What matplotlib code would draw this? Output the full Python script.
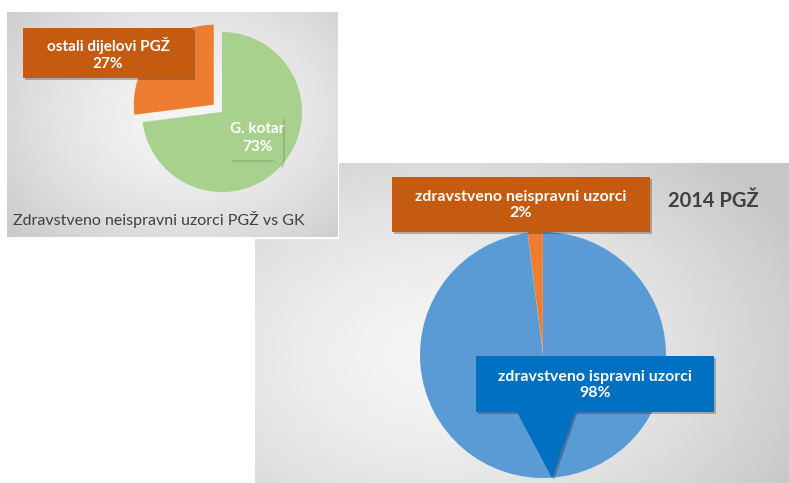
import numpy as np
import matplotlib.pyplot as plt
from matplotlib.patches import Polygon, Rectangle

# data
labels_gk = ["ostali dijelovi PGŽ", "G. kotar"]
values_gk = [27, 73]
colors_gk = ["#ED7D31", "#A9D18E"]
title_gk = "Zdravstveno neispravni uzorci PGŽ vs GK"

labels_pgz = ["zdravstveno neispravni uzorci", "zdravstveno ispravni uzorci"]
values_pgz = [2, 98]
colors_pgz = ["#ED7D31", "#5B9BD5"]
title_pgz = "2014 PGŽ"

W, H = 789, 483
plt.rcParams['font.family'] = ['Lato', 'DejaVu Sans']

fig = plt.figure(figsize=(W / 100, H / 100), dpi=100)
ax = fig.add_axes([0, 0, 1, 1])


def Y(y):
    # screen y (top down) -> axes y (bottom up)
    return H - y


def panel(x0, y0, x1, y1, cx, cy, z):
    xx, yy = np.meshgrid(np.linspace(0, 1, 300), np.linspace(0, 1, 300))
    d = np.sqrt(((xx - cx) / 0.8) ** 2 + ((yy - cy) / 0.9) ** 2)
    val = np.clip(0.96 - 0.2 * d ** 1.5, 0.78, 0.97)
    ax.add_patch(Rectangle((x0 - 1.5, Y(y1) - 1.5), x1 - x0 + 3, y1 - y0 + 3,
                           facecolor="white", edgecolor="none", zorder=z - 0.1))
    ax.imshow(val, cmap="gray", vmin=0, vmax=1, origin="upper",
              extent=(x0, x1, Y(y1), Y(y0)), zorder=z, interpolation="bilinear")


def label_box(pts, color, z, shadow=0.25):
    sh = [(x + 2, y - 2) for x, y in pts]
    ax.add_patch(Polygon(sh, closed=True, facecolor="black", alpha=shadow,
                         edgecolor="none", zorder=z))
    ax.add_patch(Polygon(pts, closed=True, facecolor=color, edgecolor="none",
                         zorder=z + 0.1))


# ---- panel 2 (behind) ----
panel(255, 163, 789, 483, 0.35, 0.6, 1)
w2, _ = ax.pie(values_pgz, colors=colors_pgz, startangle=90, counterclock=True,
               center=(543, Y(355)), radius=123, explode=[3, 0],
               wedgeprops={"linewidth": 0})
for w in w2:
    w.set_zorder(2)

# orange label
label_box([(392, Y(177)), (650, Y(177)), (650, Y(232)), (392, Y(232))], "#C55A11", 3)
ax.text(521, Y(205), f"{labels_pgz[0]}\n{values_pgz[0]}%", color="white",
        fontsize=11.5, fontweight="bold", ha="center", va="center",
        linespacing=1.2, zorder=4)
# blue label with pointer
label_box([(476, Y(356)), (714, Y(356)), (714, Y(412)), (575, Y(412)),
           (552, Y(478)), (517, Y(412)), (476, Y(412))], "#0070C0", 3)
ax.text(595, Y(385), f"{labels_pgz[1]}\n{values_pgz[1]}%", color="white",
        fontsize=11.5, fontweight="bold", ha="center", va="center",
        linespacing=1.2, zorder=4)
ax.text(713, Y(201), title_pgz, color="#404040", fontsize=14.5,
        fontweight="bold", ha="center", va="center", zorder=4)

# ---- panel 1 (front) ----
panel(7, 12, 338, 237, 0.55, 0.45, 5)
w1, _ = ax.pie(values_gk, colors=colors_gk, startangle=90, counterclock=True,
               center=(222, Y(112)), radius=80, explode=[11, 0],
               wedgeprops={"linewidth": 0})
for w in w1:
    w.set_zorder(6)

label_box([(23, Y(28)), (193, Y(28)), (193, Y(78)), (23, Y(78))], "#C55A11", 7)
ax.text(108, Y(54), f"{labels_gk[0]}\n{values_gk[0]}%", color="white",
        fontsize=11, fontweight="bold", ha="center", va="center",
        linespacing=1.3, zorder=8)
label_box([(230, Y(117)), (283, Y(117)), (283, Y(160)), (281, Y(166)),
           (272, Y(160)), (230, Y(160))], "#A9D18E", 7, shadow=0.12)
ax.text(257, Y(138), f"{labels_gk[1]}\n{values_gk[1]}%", color="white",
        fontsize=11, fontweight="bold", ha="center", va="center",
        linespacing=1.3, zorder=8)
ax.text(13, Y(220), title_gk, color="#404040", fontsize=11.5,
        ha="left", va="center", zorder=8)

ax.set_xlim(0, W)
ax.set_ylim(0, H)
ax.set_aspect("auto")
ax.axis("off")
fig.savefig("out.png", dpi=100, facecolor="white")
